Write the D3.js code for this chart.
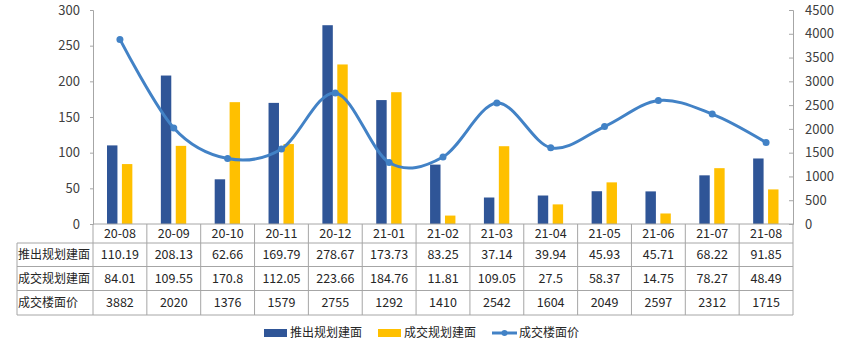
<!DOCTYPE html>
<html>
<head>
<meta charset="utf-8">
<script src="https://cdn.jsdelivr.net/npm/d3@7"></script>
<style>
  html, body { margin: 0; padding: 0; background: #fff; }
  svg { display: block; font-family: "Microsoft YaHei", "Noto Sans CJK SC", sans-serif; }
</style>
</head>
<body>
<svg id="chart" width="846" height="350"></svg>
<script>
// Monthly data
const months = ["20-08","20-09","20-10","20-11","20-12","21-01","21-02","21-03","21-04","21-05","21-06","21-07","21-08"];
const supplyArea = [110.19, 208.13, 62.66, 169.79, 278.67, 173.73, 83.25, 37.14, 39.94, 45.93, 45.71, 68.22, 91.85];
const dealArea = [84.01, 109.55, 170.8, 112.05, 223.66, 184.76, 11.81, 109.05, 27.5, 58.37, 14.75, 78.27, 48.49];
const floorPrice = [3882, 2020, 1376, 1579, 2755, 1292, 1410, 2542, 1604, 2049, 2597, 2312, 1715];
const seriesNames = ["推出规划建面", "成交规划建面", "成交楼面价"];
const leftTicks = [0, 50, 100, 150, 200, 250, 300];
const rightTicks = [0, 500, 1000, 1500, 2000, 2500, 3000, 3500, 4000, 4500];

const colors = { supply: "#2f5597", deal: "#ffc000", price: "#4282c6", grid: "#a6a6a6", text: "#404040" };

const svg = d3.select("#chart");
const plotLeft = 93, plotRight = 793, plotTop = 10, plotBottom = 224;
const headerLeft = 17;
const rowBounds = [224, 243, 266.5, 290.5, 315];

const x = d3.scaleBand().domain(months).range([plotLeft, plotRight]).paddingInner(0).paddingOuter(0);
const xInner = d3.scaleBand().domain(["supply", "deal"]).range([14, x.bandwidth() - 14.5]).paddingInner(0.3);
const yL = d3.scaleLinear().domain([0, 300]).range([plotBottom, plotTop]);
const yR = d3.scaleLinear().domain([0, 4500]).range([plotBottom, plotTop]);

// Left axis (ticks outward)
const axL = svg.append("g").attr("transform", `translate(${plotLeft},0)`)
  .call(d3.axisLeft(yL).tickValues(leftTicks).tickSize(3).tickPadding(10).tickFormat(d3.format("d")));
// Right axis (ticks point into the plot)
const axR = svg.append("g").attr("transform", `translate(${plotRight},0)`)
  .call(d3.axisRight(yR).tickValues(rightTicks).tickSize(-4).tickPadding(12).tickFormat(d3.format("d")));
[axL, axR].forEach(g => {
  g.select(".domain").attr("stroke", colors.grid);
  g.selectAll(".tick line").attr("stroke", colors.grid);
  g.selectAll(".tick text").attr("fill", colors.text).style("font-size", "13px")
    .style("font-family", "\"Microsoft YaHei\", \"Noto Sans CJK SC\", sans-serif");
});

// Bars
const groups = svg.append("g").selectAll("g").data(months).join("g")
  .attr("transform", d => `translate(${x(d)},0)`);
groups.append("rect")
  .attr("x", xInner("supply")).attr("width", xInner.bandwidth())
  .attr("y", (d, i) => yL(supplyArea[i])).attr("height", (d, i) => yL(0) - yL(supplyArea[i]))
  .attr("fill", colors.supply);
groups.append("rect")
  .attr("x", xInner("deal")).attr("width", xInner.bandwidth())
  .attr("y", (d, i) => yL(dealArea[i])).attr("height", (d, i) => yL(0) - yL(dealArea[i]))
  .attr("fill", colors.deal);

// Smoothed price line on the right axis
const cx = d => x(d) + x.bandwidth() / 2;
const line = d3.line().x((d, i) => cx(months[i])).y(d => yR(d)).curve(d3.curveCardinal.tension(0));
svg.append("path").datum(floorPrice).attr("d", line)
  .attr("fill", "none").attr("stroke", colors.price).attr("stroke-width", 3).attr("stroke-linecap", "round");
svg.append("g").selectAll("circle").data(floorPrice).join("circle")
  .attr("cx", (d, i) => cx(months[i])).attr("cy", d => yR(d)).attr("r", 3.5).attr("fill", colors.price);

// Data table
const table = svg.append("g").attr("stroke", colors.grid).attr("stroke-width", 1).attr("fill", "none");
table.append("line").attr("x1", plotLeft).attr("x2", plotRight).attr("y1", rowBounds[0]).attr("y2", rowBounds[0]);
rowBounds.slice(1).forEach(yv => {
  table.append("line").attr("x1", headerLeft).attr("x2", plotRight).attr("y1", yv).attr("y2", yv);
});
table.append("line").attr("x1", headerLeft).attr("x2", headerLeft).attr("y1", rowBounds[1]).attr("y2", rowBounds[4]);
months.forEach(m => {
  table.append("line").attr("x1", x(m)).attr("x2", x(m)).attr("y1", rowBounds[0]).attr("y2", rowBounds[4]);
});
table.append("line").attr("x1", plotRight).attr("x2", plotRight).attr("y1", rowBounds[0]).attr("y2", rowBounds[4]);

const cellText = svg.append("g").attr("fill", "#262626").style("font-size", "12.5px");
const rowMid = i => (rowBounds[i] + rowBounds[i + 1]) / 2;
cellText.selectAll(".cat").data(months).join("text").attr("class", "cat")
  .attr("x", d => cx(d)).attr("y", rowMid(0)).attr("dy", "0.36em").attr("text-anchor", "middle").text(d => d);
const rows = [supplyArea, dealArea, floorPrice];
rows.forEach((vals, r) => {
  cellText.append("text").attr("x", headerLeft + 1).attr("y", rowMid(r + 1)).attr("dy", "0.36em")
    .style("font-size", "12px").text(seriesNames[r]);
  cellText.selectAll(".v" + r).data(vals).join("text").attr("class", "v" + r)
    .attr("x", (d, i) => cx(months[i])).attr("y", rowMid(r + 1)).attr("dy", "0.36em")
    .attr("text-anchor", "middle").text(d => String(d));
});

// Legend
const legend = svg.append("g").style("font-size", "12px").attr("fill", "#262626");
const ly = 333;
legend.append("rect").attr("x", 264).attr("y", ly - 4).attr("width", 23).attr("height", 8).attr("fill", colors.supply);
legend.append("text").attr("x", 290).attr("y", ly).attr("dy", "0.36em").text(seriesNames[0]);
legend.append("rect").attr("x", 378).attr("y", ly - 4).attr("width", 23).attr("height", 8).attr("fill", colors.deal);
legend.append("text").attr("x", 404).attr("y", ly).attr("dy", "0.36em").text(seriesNames[1]);
legend.append("line").attr("x1", 492).attr("x2", 517).attr("y1", ly).attr("y2", ly)
  .attr("stroke", colors.price).attr("stroke-width", 3);
legend.append("circle").attr("cx", 504.5).attr("cy", ly).attr("r", 3).attr("fill", colors.price);
legend.append("text").attr("x", 519).attr("y", ly).attr("dy", "0.36em").text(seriesNames[2]);
</script>
</body>
</html>
